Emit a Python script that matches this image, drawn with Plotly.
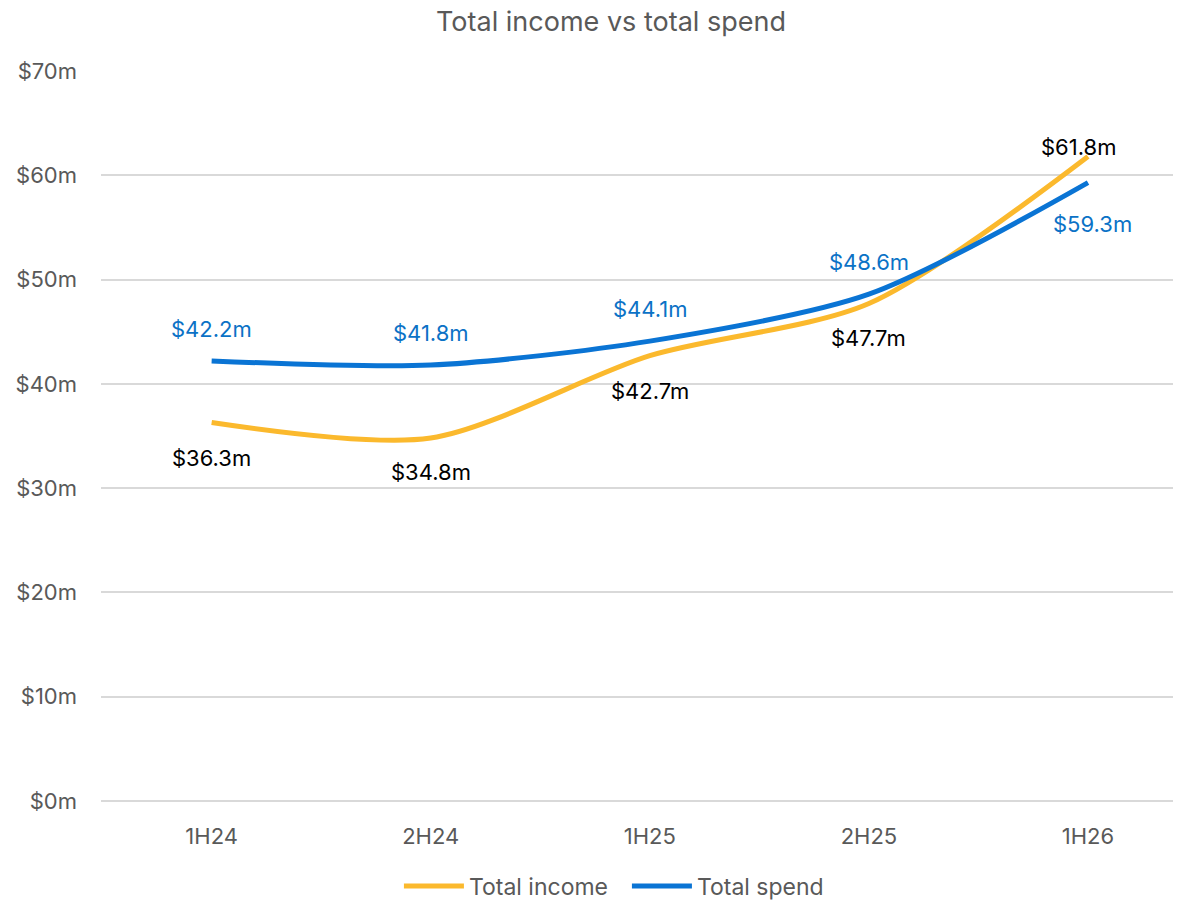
import plotly.graph_objects as go

categories = ["1H24", "2H24", "1H25", "2H25", "1H26"]
total_income = [36.3, 34.8, 42.7, 47.7, 61.8]
total_spend = [42.2, 41.8, 44.1, 48.6, 59.3]
y_ticks = [0, 10, 20, 30, 40, 50, 60, 70]
y_tick_labels = ["$0m", "$10m", "$20m", "$30m", "$40m", "$50m", "$60m", "$70m"]

# label placement (pixel shifts) per point
income_shift_y = [-36, -34, -35, -34, 10]
income_shift_x = [0, 0, 0, 0, -9]
spend_shift_y = [32, 32, 32, 32, -41]
spend_shift_x = [0, 0, 0, 0, 5]

YELLOW = "#FBB92D"
BLUE = "#0A74D4"
BLUE_TXT = "#0B72C6"
FONT = "Inter, 'Open Sans', sans-serif"
GREY = "#595959"

fig = go.Figure()
fig.add_trace(go.Scatter(
    x=categories, y=total_income, name="Total income", mode="lines",
    line=dict(color=YELLOW, width=5, shape="spline", smoothing=0.8),
))
fig.add_trace(go.Scatter(
    x=categories, y=total_spend, name="Total spend", mode="lines",
    line=dict(color=BLUE, width=5, shape="spline", smoothing=0.8),
))

annotations = []
for i, c in enumerate(categories):
    annotations.append(dict(
        x=c, y=total_income[i], text=f"${total_income[i]:.1f}m", showarrow=False,
        xshift=income_shift_x[i], yshift=income_shift_y[i],
        font=dict(family=FONT, size=22, color="#000000"),
    ))
    annotations.append(dict(
        x=c, y=total_spend[i], text=f"${total_spend[i]:.1f}m", showarrow=False,
        xshift=spend_shift_x[i], yshift=spend_shift_y[i],
        font=dict(family=FONT, size=22, color=BLUE_TXT),
    ))

fig.update_layout(
    width=1165, height=900,
    paper_bgcolor="white", plot_bgcolor="white",
    margin=dict(l=93, r=0, t=63, b=107),
    title=dict(text="Total income vs total spend", x=0.5176, xanchor="center",
               y=0.9845, yanchor="middle",
               font=dict(family=FONT, size=27, color=GREY)),
    font=dict(family=FONT, size=22, color=GREY),
    showlegend=True,
    legend=dict(orientation="h", x=0.4906, xanchor="center", y=-0.1164, yanchor="middle",
                font=dict(family=FONT, size=23, color=GREY), itemwidth=60,
                entrywidth=153, entrywidthmode="pixels"),
    annotations=annotations,
    xaxis=dict(
        type="category", range=[-0.505, 4.388], showgrid=False, zeroline=False,
        showline=False, ticks="", ticklabelstandoff=20,
        tickfont=dict(family=FONT, size=22, color=GREY),
    ),
    yaxis=dict(
        range=[0, 70], tickvals=y_ticks, ticktext=y_tick_labels,
        showgrid=True, gridcolor="#D9D9D9", gridwidth=1.5,
        zeroline=True, zerolinecolor="#D9D9D9", zerolinewidth=1.5,
        showline=False, ticks="", ticklabelstandoff=23,
        tickfont=dict(family=FONT, size=22, color=GREY),
    ),
)

fig.write_html("out.html", config={"displayModeBar": False})
